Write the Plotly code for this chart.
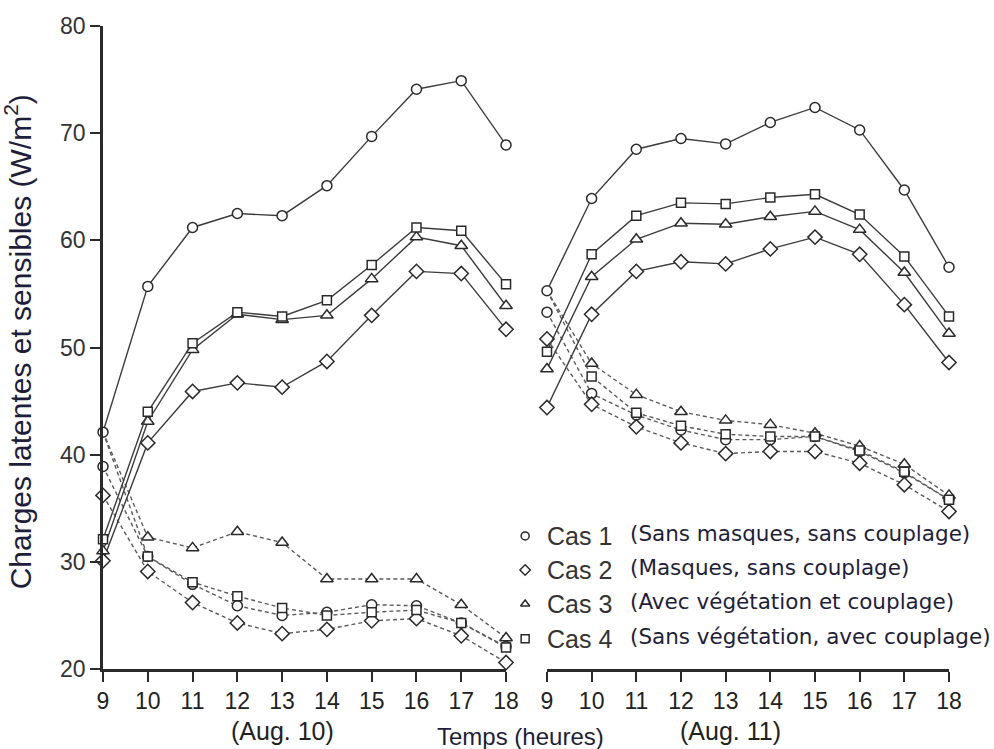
import plotly.graph_objects as go

# Hours of the day (same for both days)
hours = [9, 10, 11, 12, 13, 14, 15, 16, 17, 18]

# Sensible loads (solid lines), W/m2
sens_aug10 = {
    "Cas 1": [42.1, 55.7, 61.2, 62.5, 62.3, 65.1, 69.7, 74.1, 74.9, 68.9],
    "Cas 2": [30.1, 41.1, 45.9, 46.7, 46.3, 48.7, 53.0, 57.1, 56.9, 51.7],
    "Cas 3": [31.0, 43.1, 49.8, 53.1, 52.6, 53.0, 56.4, 60.3, 59.5, 53.9],
    "Cas 4": [32.1, 44.0, 50.4, 53.3, 52.9, 54.4, 57.7, 61.2, 60.9, 55.9],
}
sens_aug11 = {
    "Cas 1": [55.3, 63.9, 68.5, 69.5, 69.0, 71.0, 72.4, 70.3, 64.7, 57.5],
    "Cas 2": [44.4, 53.1, 57.1, 58.0, 57.8, 59.2, 60.3, 58.7, 54.0, 48.6],
    "Cas 3": [48.0, 56.6, 60.1, 61.6, 61.5, 62.2, 62.7, 61.0, 57.0, 51.3],
    "Cas 4": [49.6, 58.7, 62.3, 63.5, 63.4, 64.0, 64.3, 62.4, 58.5, 52.9],
}

# Latent loads (dashed lines), W/m2
lat_aug10 = {
    "Cas 1": [38.9, 30.5, 27.9, 25.9, 25.0, 25.3, 26.0, 25.9, 24.3, 22.1],
    "Cas 2": [36.2, 29.1, 26.2, 24.3, 23.3, 23.7, 24.5, 24.7, 23.1, 20.6],
    "Cas 3": [42.1, 32.3, 31.3, 32.8, 31.8, 28.4, 28.4, 28.4, 26.0, 22.9],
    "Cas 4": [42.1, 30.5, 28.1, 26.8, 25.7, 25.0, 25.3, 25.5, 24.3, 22.0],
}
lat_aug11 = {
    "Cas 1": [53.3, 45.7, 43.7, 42.3, 41.4, 41.4, 41.7, 40.3, 38.3, 35.8],
    "Cas 2": [50.8, 44.7, 42.6, 41.1, 40.1, 40.3, 40.3, 39.2, 37.2, 34.7],
    "Cas 3": [55.3, 48.5, 45.6, 44.0, 43.2, 42.8, 42.0, 40.8, 39.1, 36.2],
    "Cas 4": [55.3, 47.3, 43.9, 42.7, 41.9, 41.7, 41.7, 40.4, 38.4, 35.8],
}

cases = ["Cas 1", "Cas 2", "Cas 3", "Cas 4"]
descriptions = [
    "(Sans masques, sans couplage)",
    "(Masques, sans couplage)",
    "(Avec végétation et couplage)",
    "(Sans végétation, avec couplage)",
]
y_ticks = [20, 30, 40, 50, 60, 70, 80]

symbols = {"Cas 1": "circle", "Cas 2": "diamond", "Cas 3": "triangle-up", "Cas 4": "square"}
sizes = {"Cas 1": 10, "Cas 2": 11, "Cas 3": 11, "Cas 4": 9}

INK = "#2a2a2a"
TEXT_DARK = "#1e1e3a"
FONT = "Arial"

fig = go.Figure()


def add_series(xaxis, values, dash, color, cover=None):
    for c in cases:
        size = sizes[c]
        if cover is not None:
            # a latent point sitting on a sensible point is tucked under its marker
            size = [6 if any(abs(v - cover[k][i]) < 0.05 for k in cases) else sizes[c]
                    for i, v in enumerate(values[c])]
        fig.add_trace(go.Scatter(
            x=hours, y=values[c], xaxis=xaxis, yaxis="y",
            mode="lines+markers", cliponaxis=False, showlegend=False,
            line=dict(color=color, width=1.4, dash=dash),
            marker=dict(symbol=symbols[c], size=size, color="white", opacity=1,
                        line=dict(color=INK, width=1.5)),
        ))


# latent first so the sensible markers sit on top
add_series("x", lat_aug10, "4px,3px", "#5a5a5a", cover=sens_aug10)
add_series("x2", lat_aug11, "4px,3px", "#5a5a5a", cover=sens_aug11)
add_series("x", sens_aug10, "solid", "#3c3c3c")
add_series("x2", sens_aug11, "solid", "#3c3c3c")

# Key: marker column, case name and description, laid out in paper units
key_x = 0.499
key_rows = [0.207, 0.154, 0.101, 0.047]
fig.add_trace(go.Scatter(
    x=[key_x] * 4, y=key_rows, xaxis="x3", yaxis="y3",
    mode="markers", cliponaxis=False, showlegend=False, hoverinfo="skip",
    marker=dict(symbol=[symbols[c] for c in cases], size=8, color="white",
                line=dict(color=INK, width=1.5)),
))
annotations = []
for c, d, yr in zip(cases, descriptions, key_rows):
    annotations.append(dict(x=0.5225, y=yr, xref="paper", yref="paper", text=c,
                            showarrow=False, xanchor="left", yanchor="middle",
                            font=dict(family=FONT, size=25, color="#333333")))
    annotations.append(dict(x=0.6205, y=yr + 0.004, xref="paper", yref="paper", text=d,
                            showarrow=False, xanchor="left", yanchor="middle",
                            font=dict(family="DejaVu Sans", size=21.5, color=TEXT_DARK)))

annotations += [
    dict(x=13, y=-0.0964, xref="x", yref="paper", text="(Aug. 10)", showarrow=False,
         xanchor="center", yanchor="middle",
         font=dict(family=FONT, size=25, color="#222222")),
    dict(x=13.1, y=-0.0964, xref="x2", yref="paper", text="(Aug. 11)", showarrow=False,
         xanchor="center", yanchor="middle",
         font=dict(family=FONT, size=25, color="#222222")),
    dict(x=0.493, y=-0.1045, xref="paper", yref="paper", text="Temps (heures)", showarrow=False,
         xanchor="center", yanchor="middle",
         font=dict(family=FONT, size=24, color=TEXT_DARK)),
    dict(x=-0.1, y=0.5086, xref="paper", yref="paper", textangle=-90,
         text="Charges latentes et sensibles (W/m<sup>2</sup>)", showarrow=False,
         xanchor="center", yanchor="middle",
         font=dict(family=FONT, size=30, color=TEXT_DARK)),
]

xaxis_common = dict(
    range=[9, 18], tickvals=hours, showgrid=False, zeroline=False,
    showline=True, linecolor=INK, linewidth=2.5,
    ticks="outside", ticklen=10, tickwidth=2, tickcolor=INK,
    tickfont=dict(family=FONT, size=23, color="#222222"), anchor="y",
)

fig.update_layout(
    width=994, height=749,
    margin=dict(l=103, r=45, t=26, b=80),
    paper_bgcolor="white", plot_bgcolor="rgba(0,0,0,0)",
    xaxis=dict(domain=[0, 0.4764], **xaxis_common),
    xaxis2=dict(domain=[0.5248, 1], **xaxis_common),
    yaxis=dict(range=[20, 80], tickvals=y_ticks, showgrid=False, zeroline=False,
               showline=True, linecolor=INK, linewidth=2.5,
               ticks="outside", ticklen=10, tickwidth=2, tickcolor=INK,
               tickfont=dict(family=FONT, size=23, color="#333333"), anchor="x"),
    xaxis3=dict(domain=[0, 1], range=[0, 1], visible=False, anchor="y3"),
    yaxis3=dict(domain=[0, 1], range=[0, 1], visible=False, anchor="x3"),
    annotations=annotations,
    showlegend=False,
)

fig.write_html("out.html")
